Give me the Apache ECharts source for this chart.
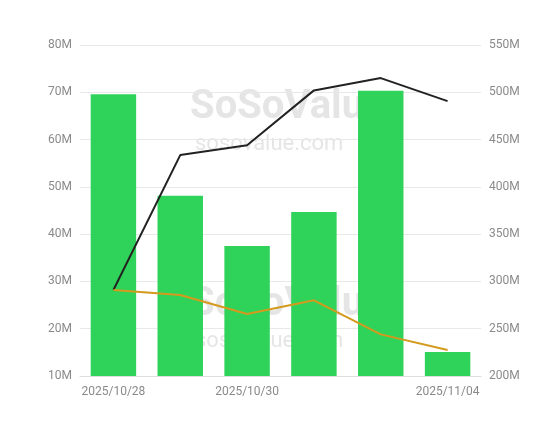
<!DOCTYPE html>
<html><head><meta charset="utf-8">
<script src="https://cdn.jsdelivr.net/npm/echarts@6/dist/echarts.min.js"></script>
<style>html,body{margin:0;padding:0;background:#fff}#c{width:560px;height:421px}</style>
</head><body><div id="c"></div>
<script>
const categories = ['2025/10/28','2025/10/29','2025/10/30','2025/10/31','2025/11/03','2025/11/04'];
const barValues = [69.6, 48.1, 37.5, 44.7, 70.3, 15.1];
const blackLine = [290.9, 433.6, 444, 502, 515, 490.7];
const orangeLine = [291, 285.6, 265.5, 280, 244, 227.5];
const leftTicks = [10,20,30,40,50,60,70,80];
const rightTicks = [200,250,300,350,400,450,500,550];
const shownLabels = [0,2,5];

const chart = echarts.init(document.getElementById('c'));
const lbl = {color:'#8a8a8a', fontSize:12, fontFamily:'Roboto, sans-serif'};
chart.setOption({
  animation:false,
  grid:{left:80,right:79,top:45,bottom:45},
  graphic:[
    {type:'text',left:190,top:88,style:{text:'SoSoValue',fontSize:40,fontWeight:'bold',fill:'rgba(180,180,180,0.35)',fontFamily:'Roboto'}},
    {type:'text',left:195,top:133,style:{text:'sosovalue.com',fontSize:22,fill:'rgba(180,180,180,0.35)',fontFamily:'Roboto'}},
    {type:'text',left:190,top:285,style:{text:'SoSoValue',fontSize:40,fontWeight:'bold',fill:'rgba(180,180,180,0.35)',fontFamily:'Roboto'}},
    {type:'text',left:195,top:330,style:{text:'sosovalue.com',fontSize:22,fill:'rgba(180,180,180,0.35)',fontFamily:'Roboto'}}
  ],
  xAxis:{type:'category',data:categories,
    axisLine:{lineStyle:{color:'#ddd'}},axisTick:{show:false},
    axisLabel:Object.assign({interval:(i)=>shownLabels.includes(i),margin:10},lbl)},
  yAxis:[
    {type:'value',min:leftTicks[0],max:leftTicks[leftTicks.length-1],interval:10,
     axisLabel:Object.assign({formatter:v=>v+'M'},lbl),
     splitLine:{lineStyle:{color:'#e8e8e8'}},axisLine:{show:false},axisTick:{show:false}},
    {type:'value',min:rightTicks[0],max:rightTicks[rightTicks.length-1],interval:50,
     axisLabel:Object.assign({formatter:v=>v+'M'},lbl),
     splitLine:{show:false},axisLine:{show:false},axisTick:{show:false}}
  ],
  series:[
    {type:'bar',data:barValues,yAxisIndex:0,barWidth:'68%',itemStyle:{color:'#2fd35a'}},
    {type:'line',data:blackLine,yAxisIndex:1,symbol:'none',lineStyle:{color:'#222',width:2}},
    {type:'line',data:orangeLine,yAxisIndex:1,symbol:'none',lineStyle:{color:'#d39a1e',width:2}}
  ]
});
</script></body></html>
